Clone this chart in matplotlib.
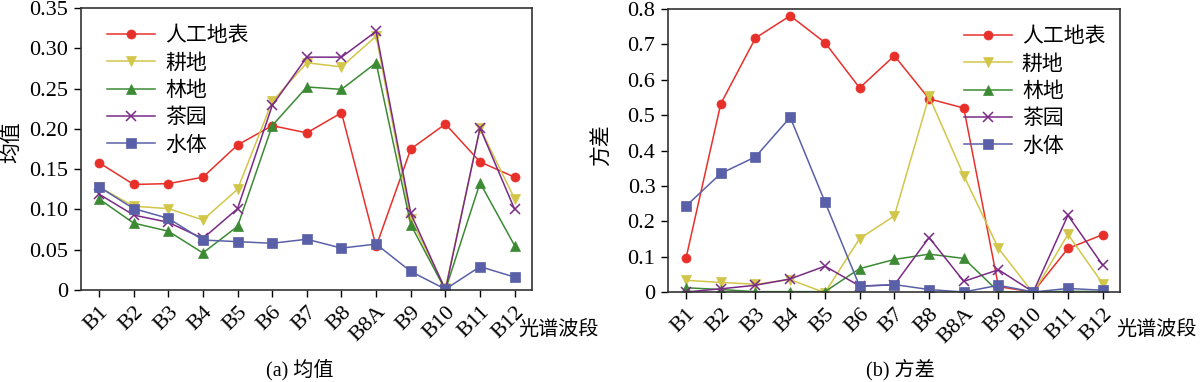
import matplotlib
matplotlib.use("Agg")
import matplotlib.pyplot as plt

plt.rcParams['font.family'] = ['Liberation Serif', 'Noto Sans CJK SC']
plt.rcParams['axes.unicode_minus'] = False

bands = ['B1', 'B2', 'B3', 'B4', 'B5', 'B6', 'B7', 'B8', 'B8A', 'B9', 'B10', 'B11', 'B12']
classes = ['人工地表', '耕地', '林地', '茶园', '水体']

mean_artificial = [0.158, 0.131, 0.132, 0.140, 0.180, 0.204, 0.195, 0.220, 0.054, 0.175, 0.206, 0.159, 0.140]
mean_cropland = [0.128, 0.104, 0.101, 0.087, 0.125, 0.234, 0.282, 0.277, 0.315, 0.088, 0.002, 0.201, 0.113]
mean_forest = [0.113, 0.083, 0.073, 0.046, 0.079, 0.204, 0.252, 0.249, 0.282, 0.081, 0.000, 0.133, 0.055]
mean_tea = [0.119, 0.093, 0.084, 0.064, 0.101, 0.229, 0.289, 0.289, 0.321, 0.095, 0.000, 0.201, 0.100]
mean_water = [0.128, 0.101, 0.089, 0.062, 0.060, 0.058, 0.063, 0.052, 0.057, 0.023, 0.001, 0.029, 0.016]

var_artificial = [0.096, 0.532, 0.718, 0.781, 0.705, 0.577, 0.668, 0.546, 0.520, 0.015, 0.000, 0.123, 0.162]
var_cropland = [0.033, 0.027, 0.022, 0.035, -0.002, 0.151, 0.215, 0.553, 0.329, 0.123, -0.003, 0.163, 0.024]
var_forest = [0.012, 0.007, 0.001, 0.001, 0.001, 0.066, 0.092, 0.107, 0.095, 0.001, 0.000, 0.002, 0.001]
var_tea = [0.000, 0.009, 0.019, 0.037, 0.073, 0.017, 0.020, 0.154, 0.030, 0.063, 0.000, 0.217, 0.076]
var_water = [0.243, 0.335, 0.382, 0.494, 0.255, 0.016, 0.021, 0.007, 0.000, 0.019, 0.000, 0.010, 0.005]

colors = ['#e8302a', '#d2c64a', '#3c8a34', '#7a2a86', '#5a60a8']
markers = ['o', 'v', '^', 'x', 's']

fig = plt.figure(figsize=(12, 3.82), dpi=100)
ax1 = fig.add_axes([81/1200, 1 - 290/382, (532-81)/1200, (290-8)/382])
ax2 = fig.add_axes([668/1200, 1 - 292/382, (1120-668)/1200, (292-9)/382])

x = list(range(len(bands)))

def draw(ax, series, ylim, yticks, yticklabels, ylabel):
    for s, c, m, lab in zip(series, colors, markers, classes):
        ms = 6.5 if m != 'x' else 7.5
        ax.plot(x, s, color=c, marker=m, markersize=ms, linewidth=1.1,
                markeredgewidth=1.1 if m == 'x' else 0.5, label=lab)
    ax.set_xlim(-0.52, 12.5)
    ax.set_ylim(*ylim)
    ax.set_yticks(yticks)
    ax.set_yticklabels(yticklabels, fontsize=16)
    ax.set_xticks(x)
    ax.set_xticklabels(bands, rotation=45, ha='right', va='top', fontsize=16,
                       rotation_mode='anchor')
    ax.tick_params(direction='out', length=5, width=1, pad=4)
    for sp in ax.spines.values():
        sp.set_color('#333333')
        sp.set_linewidth(1.2)
    ax.set_ylabel(ylabel, fontsize=15)

draw(ax1, [mean_artificial, mean_cropland, mean_forest, mean_tea, mean_water],
     (0, 0.35), [0, 0.05, 0.10, 0.15, 0.20, 0.25, 0.30, 0.35],
     ['0', '0.05', '0.10', '0.15', '0.20', '0.25', '0.30', '0.35'], '均值')
draw(ax2, [var_artificial, var_cropland, var_forest, var_tea, var_water],
     (0, 0.8), [0, 0.1, 0.2, 0.3, 0.4, 0.5, 0.6, 0.7, 0.8],
     ['0', '0.1', '0.2', '0.3', '0.4', '0.5', '0.6', '0.7', '0.8'], '方差')

ax1.yaxis.set_label_coords(-0.13, 0.525)
ax2.yaxis.set_label_coords(-0.125, 0.52)

leg_kw = dict(frameon=False, fontsize=15, handlelength=2.3, labelspacing=0.37,
              handletextpad=0.5, borderaxespad=0.3)
ax1.legend(loc='upper left', bbox_to_anchor=(0.025, 0.985), **leg_kw)
ax2.legend(loc='upper right', bbox_to_anchor=(1.0, 0.985), **leg_kw)

fig.text(518/1200, 1 - 330/382, '光谱波段', fontsize=14.5, va='center', ha='left')
fig.text(1116/1200, 1 - 330/382, '光谱波段', fontsize=14.5, va='center', ha='left')
fig.text(300/1200, 1 - 370/382, '(a) 均值', fontsize=14.5, va='center', ha='center')
fig.text(900/1200, 1 - 370/382, '(b) 方差', fontsize=14.5, va='center', ha='center')

fig.savefig('out.png', dpi=100)
